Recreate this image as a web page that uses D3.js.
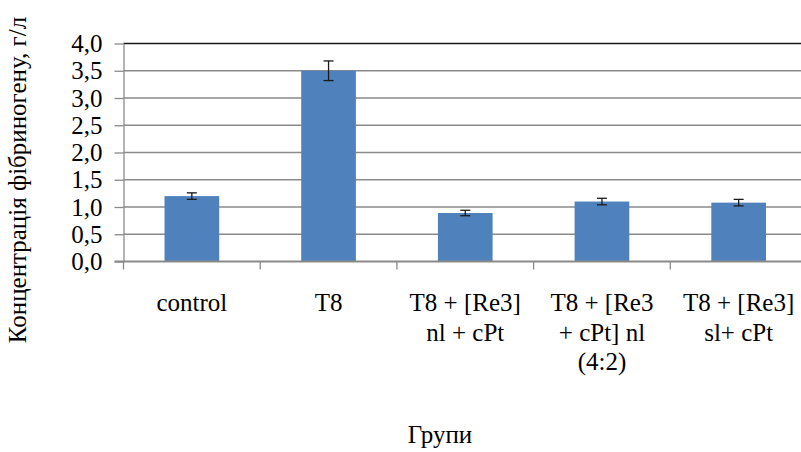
<!DOCTYPE html>
<html>
<head>
<meta charset="utf-8">
<script src="https://cdn.jsdelivr.net/npm/d3@7"></script>
<style>
  body { margin: 0; background: #fff; }
  #chart text { font-family: 'Liberation Serif', serif !important; font-size: 25px; fill: #000; }
</style>
</head>
<body>
<div id="chart"></div>
<script>
(function() {
    'use strict';

    // categories (line breaks as in the original)
    var categories = [
        'control',
        'T8',
        'T8 + [Re3]\nnl + cPt',
        'T8 + [Re3\n+ cPt] nl\n(4:2)',
        'T8 + [Re3]\nsl+ cPt'
    ];
    var values = [1.20, 3.50, 0.89, 1.10, 1.08];
    var errors = [0.06, 0.18, 0.05, 0.06, 0.06];
    var yTicks = [0, 0.5, 1, 1.5, 2, 2.5, 3, 3.5, 4];

    var yTitle = 'Концентрація фібриногену, г/л';
    var xTitle = 'Групи';

    var fullWidth = 801, fullHeight = 452;

    var area = {
        left: 123.5,
        top: 43.5,
        right: 807,
        bottom: 261.5
    };

    var svg = d3.select('#chart')
      .append('svg')
        .attr('width', fullWidth)
        .attr('height', fullHeight);

    var x = d3.scaleBand()
      .domain(categories)
      .range([area.left, area.right])
      .paddingInner(0.6)
      .paddingOuter(0.3);

    var y = d3.scaleLinear()
      .domain([0, 4])
      .range([area.bottom, area.top]);

    var formatTick = function(d) { return d3.format('.1f')(d).replace('.', ','); };

    // horizontal grid
    svg.append('g')
      .selectAll('line')
      .data(yTicks.slice(1))
      .enter().append('line')
        .attr('x1', area.left)
        .attr('x2', area.right)
        .attr('y1', function(d) { return y(d); })
        .attr('y2', function(d) { return y(d); })
        .attr('stroke', function(d) { return d === 4 ? '#1a1a1a' : '#8a8a8a'; })
        .attr('stroke-width', 1.3);

    // y axis
    var yAxis = d3.axisLeft(y)
      .tickValues(yTicks)
      .tickFormat(formatTick)
      .tickSizeInner(9)
      .tickSizeOuter(0)
      .tickPadding(12);

    var gy = svg.append('g')
      .attr('transform', 'translate(' + area.left + ',0)')
      .call(yAxis);
    gy.select('.domain').attr('stroke', '#8a8a8a').attr('stroke-width', 1.3);
    gy.selectAll('.tick line').attr('stroke', '#8a8a8a').attr('stroke-width', 1.3);

    // bars
    svg.append('g')
      .selectAll('rect')
      .data(values)
      .enter().append('rect')
        .attr('x', function(d, i) { return x(categories[i]); })
        .attr('width', x.bandwidth())
        .attr('y', function(d) { return y(d); })
        .attr('height', function(d) { return y(0) - y(d); })
        .attr('fill', '#4F81BD');

    // error bars
    var err = svg.append('g')
      .selectAll('g')
      .data(values)
      .enter().append('g')
        .attr('stroke', '#1a1a1a')
        .attr('stroke-width', 1.3);

    var cx = function(i) { return x(categories[i]) + x.bandwidth() / 2; };

    err.append('line')
      .attr('x1', function(d, i) { return cx(i); })
      .attr('x2', function(d, i) { return cx(i); })
      .attr('y1', function(d, i) { return y(d + errors[i]); })
      .attr('y2', function(d, i) { return y(d - errors[i]); });
    err.append('line')
      .attr('x1', function(d, i) { return cx(i) - 5; })
      .attr('x2', function(d, i) { return cx(i) + 5; })
      .attr('y1', function(d, i) { return y(d + errors[i]); })
      .attr('y2', function(d, i) { return y(d + errors[i]); });
    err.append('line')
      .attr('x1', function(d, i) { return cx(i) - 5; })
      .attr('x2', function(d, i) { return cx(i) + 5; })
      .attr('y1', function(d, i) { return y(d - errors[i]); })
      .attr('y2', function(d, i) { return y(d - errors[i]); });

    // x axis with category boundary ticks
    var bounds = d3.range(categories.length + 1).map(function(i) {
        return area.left + i * (area.right - area.left) / categories.length;
    });

    svg.append('g')
      .selectAll('line')
      .data(bounds)
      .enter().append('line')
        .attr('x1', function(d) { return d; })
        .attr('x2', function(d) { return d; })
        .attr('y1', area.bottom)
        .attr('y2', area.bottom + 8)
        .attr('stroke', '#8a8a8a')
        .attr('stroke-width', 1.3);

    svg.append('line')
      .attr('x1', area.left - 9)
      .attr('x2', area.right)
      .attr('y1', area.bottom)
      .attr('y2', area.bottom)
      .attr('stroke', '#8a8a8a')
      .attr('stroke-width', 2);

    // category labels
    var labels = svg.append('g')
      .attr('text-anchor', 'middle')
      .selectAll('text')
      .data(categories)
      .enter().append('text')
        .attr('x', function(d, i) { return cx(i); })
        .attr('y', 311);

    labels.selectAll('tspan')
      .data(function(d) { return d.split('\n'); })
      .enter().append('tspan')
        .attr('x', function() { return d3.select(this.parentNode).attr('x'); })
        .attr('dy', function(d, i) { return i === 0 ? 0 : 29.5; })
        .text(function(d) { return d; });

    // axis titles
    svg.append('text')
      .attr('transform', 'translate(26,180) rotate(-90)')
      .attr('text-anchor', 'middle')
      .text(yTitle);

    svg.append('text')
      .attr('x', 440)
      .attr('y', 443)
      .attr('text-anchor', 'middle')
      .text(xTitle);

})();
</script>
</body>
</html>
